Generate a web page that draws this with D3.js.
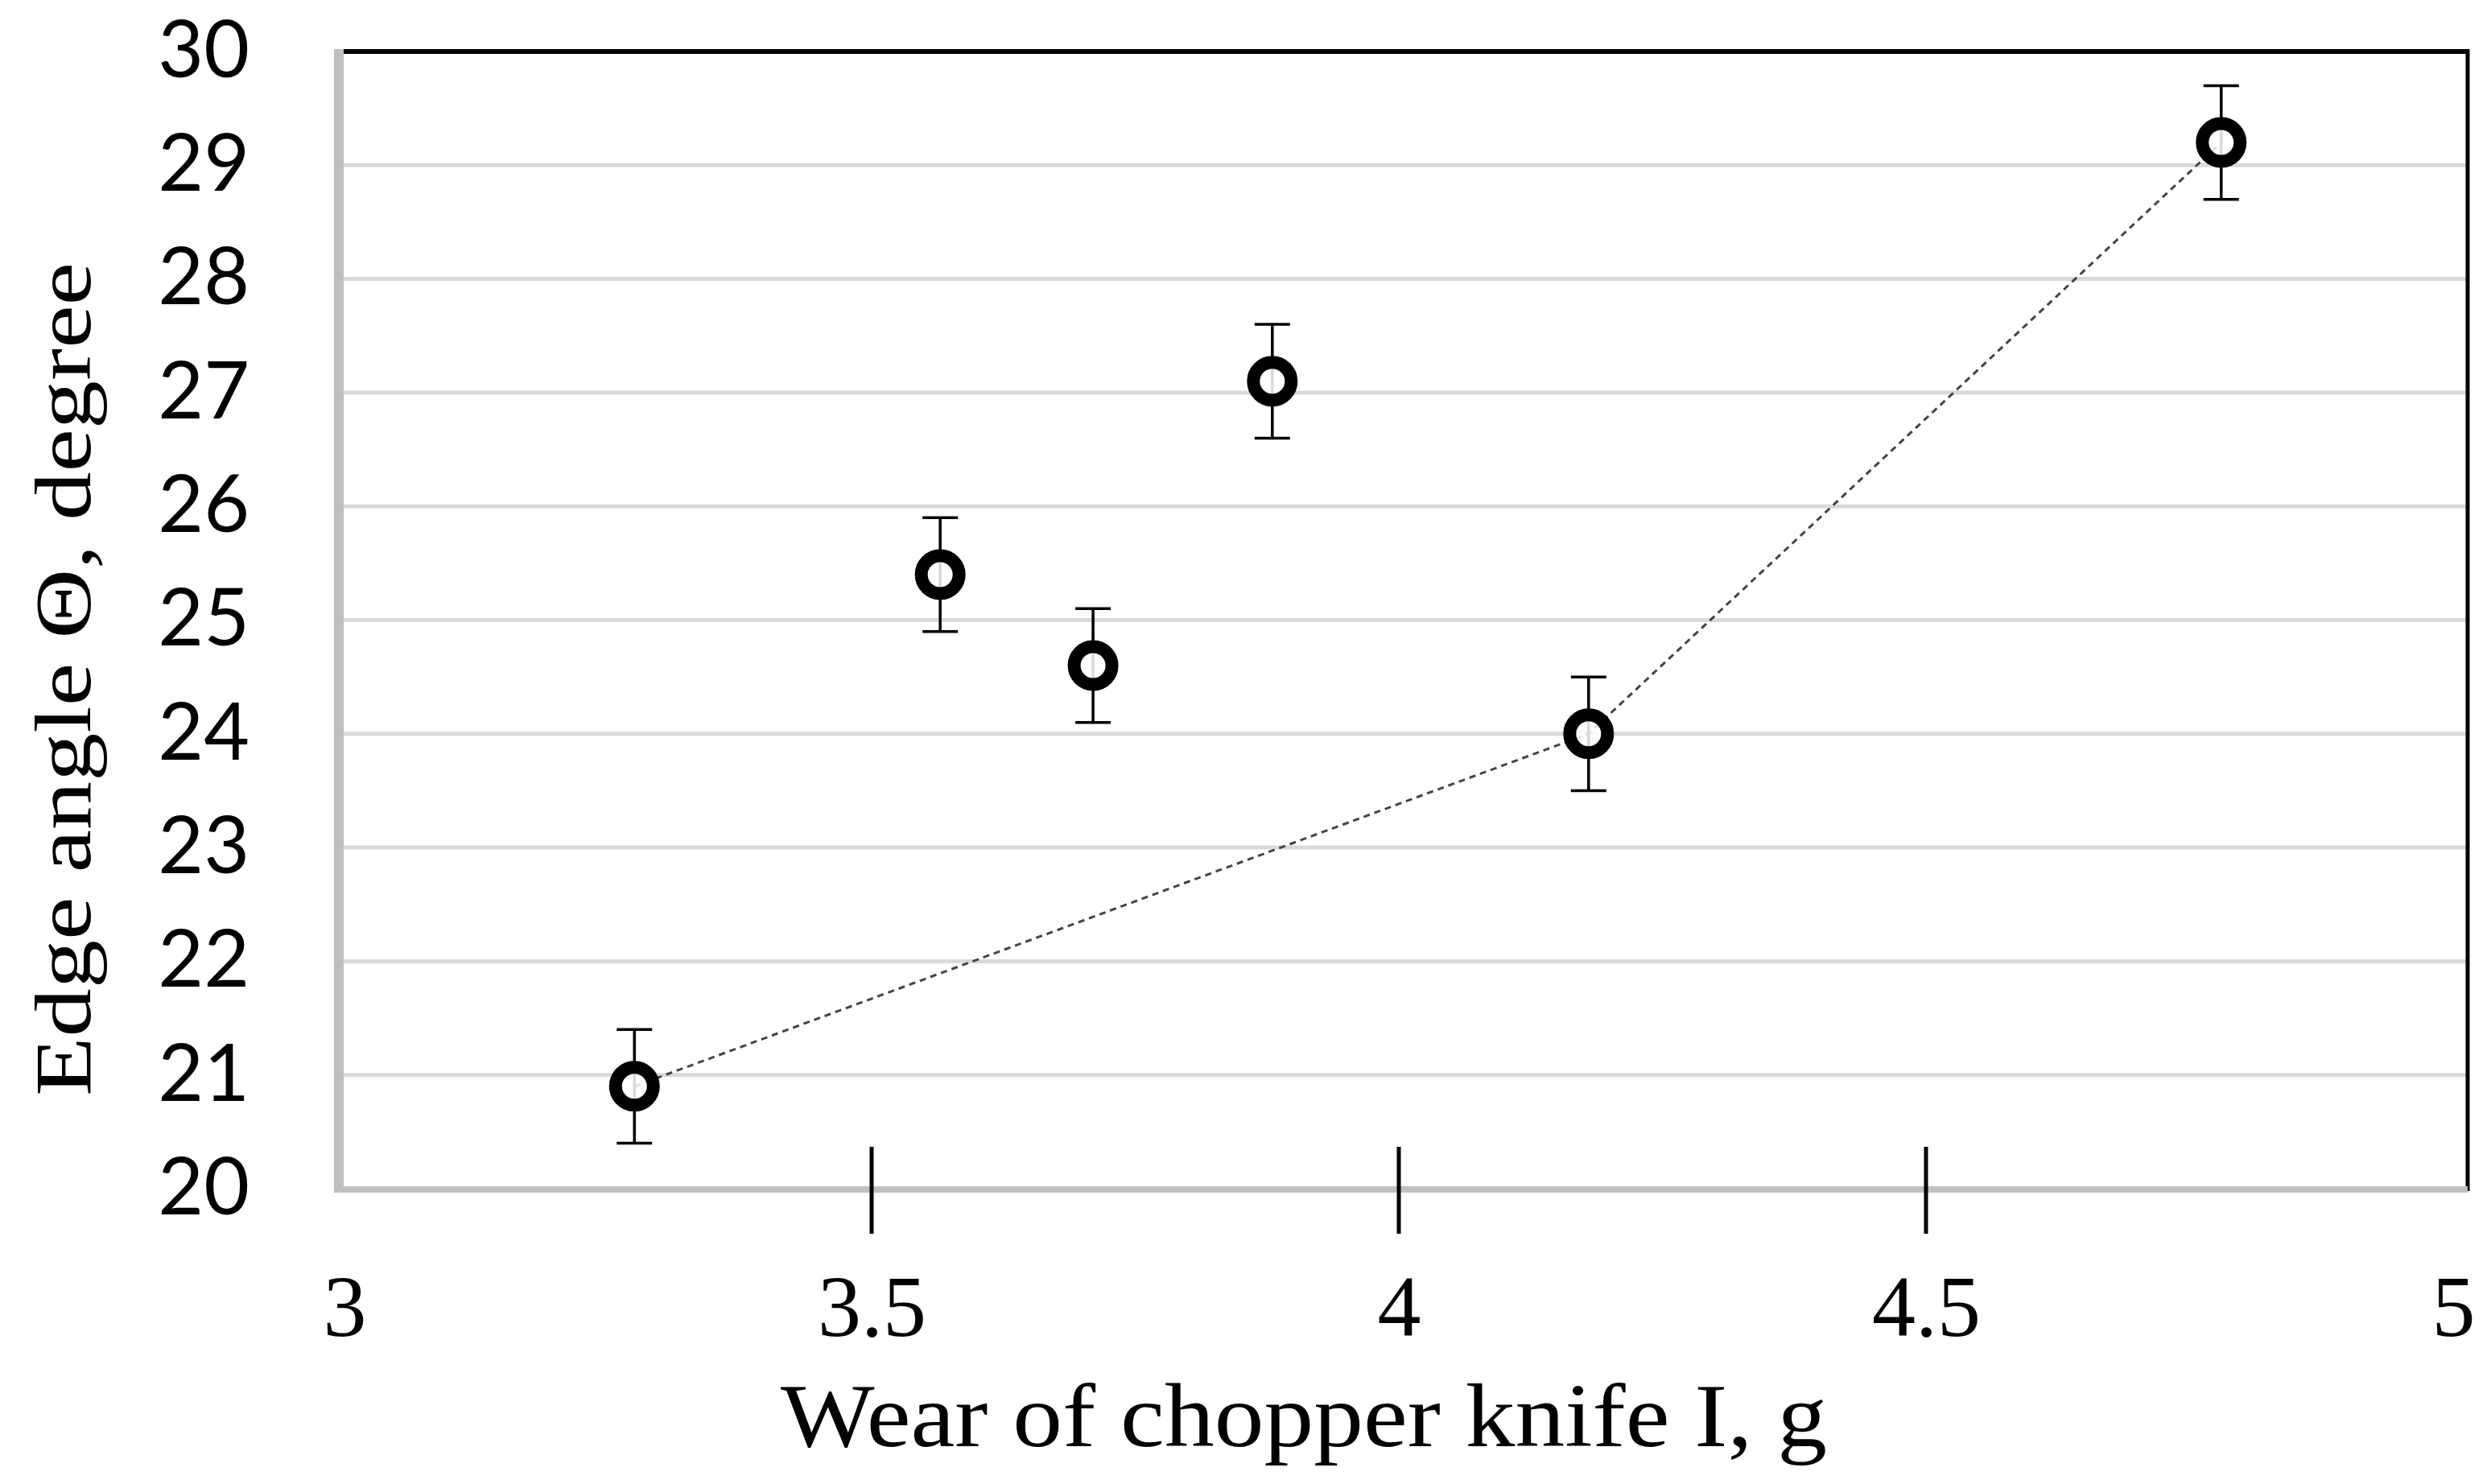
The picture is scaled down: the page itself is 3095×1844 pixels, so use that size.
<!DOCTYPE html>
<html>
<head>
<meta charset="utf-8">
<script src="https://cdn.jsdelivr.net/npm/d3@7"></script>
<style>
  html, body { margin: 0; padding: 0; background: #fff; }
  svg { display: block; }
</style>
</head>
<body>
<script>
// ---- data ----
const wear = [3.275, 3.565, 3.71, 3.88, 4.18, 4.78];
const angle = [20.9, 25.4, 24.6, 27.1, 24.0, 29.2];
const errorMargin = [0.5, 0.5, 0.5, 0.5, 0.5, 0.5];
const trendIndices = [0, 4, 5];
const yTickValues = [20, 21, 22, 23, 24, 25, 26, 27, 28, 29, 30];
const xTickValues = [3, 3.5, 4, 4.5, 5];
const xTickMarks = [3.5, 4, 4.5];
const xTitle = "Wear of chopper knife I, g";
const yTitle = "Edge angle \u0398, degree";

// ---- layout ----
const W = 3095, H = 1844;
const box = { left: 421, right: 3066, top: 64, bottom: 1477 };

const svg = d3.select("body").append("svg")
  .attr("width", W).attr("height", H)
  .attr("viewBox", `0 0 ${W} ${H}`);

const x = d3.scaleLinear().domain([3, 5]).range([428, 3048]);
const y = d3.scaleLinear().domain([20, 30]).range([box.bottom, box.top]);

// gridlines
svg.append("g").selectAll("line")
  .data(yTickValues.filter(v => v > 20 && v < 30))
  .join("line")
  .attr("x1", box.left).attr("x2", box.right)
  .attr("y1", d => y(d)).attr("y2", d => y(d))
  .attr("stroke", "#d9d9d9").attr("stroke-width", 5);

// top & right borders (black)
svg.append("line")
  .attr("x1", box.left).attr("x2", box.right + 2)
  .attr("y1", box.top).attr("y2", box.top)
  .attr("stroke", "#000").attr("stroke-width", 6);
svg.append("line")
  .attr("x1", box.right).attr("x2", box.right)
  .attr("y1", box.top - 3).attr("y2", box.bottom + 3)
  .attr("stroke", "#000").attr("stroke-width", 5);

// left & bottom axis lines (gray)
svg.append("line")
  .attr("x1", box.left).attr("x2", box.left)
  .attr("y1", box.top - 3).attr("y2", box.bottom + 4)
  .attr("stroke", "#bfbfbf").attr("stroke-width", 12);
svg.append("line")
  .attr("x1", box.left - 6).attr("x2", box.right)
  .attr("y1", box.bottom + 1).attr("y2", box.bottom + 1)
  .attr("stroke", "#bfbfbf").attr("stroke-width", 8);

// y axis labels
const yAxis = svg.append("g")
  .attr("transform", `translate(${box.left},0)`)
  .call(d3.axisLeft(y).tickValues(yTickValues).tickSize(0).tickPadding(111).tickFormat(d3.format("d")));
yAxis.select(".domain").remove();
yAxis.selectAll("text")
  .attr("font-family", "Lato, 'Open Sans', sans-serif")
  .attr("font-size", 98)
  .attr("fill", "#000");

// x axis labels
const xAxis = svg.append("g")
  .attr("transform", `translate(0,${box.bottom})`)
  .call(d3.axisBottom(x).tickValues(xTickValues).tickSize(0).tickPadding(106).tickFormat(d3.format("")));
xAxis.select(".domain").remove();
xAxis.selectAll("text")
  .attr("font-family", "'Liberation Serif', 'DejaVu Serif', serif")
  .attr("font-size", 108)
  .attr("fill", "#000");

// x tick marks crossing the axis
svg.append("g").selectAll("line")
  .data(xTickMarks)
  .join("line")
  .attr("x1", d => x(d)).attr("x2", d => x(d))
  .attr("y1", box.bottom - 52).attr("y2", box.bottom + 56)
  .attr("stroke", "#000").attr("stroke-width", 5);

// dashed trend line
const trendData = trendIndices.map(i => [wear[i], angle[i]]);
svg.append("path")
  .datum(trendData)
  .attr("d", d3.line().x(d => x(d[0])).y(d => y(d[1])))
  .attr("fill", "none")
  .attr("stroke", "#444")
  .attr("stroke-width", 3)
  .attr("stroke-dasharray", "8,6");

// error bars
const pts = wear.map((w, i) => ({ x: w, y: angle[i], e: errorMargin[i] }));
const eb = svg.append("g").attr("stroke", "#000").attr("stroke-width", 3.5);
eb.selectAll("line.v").data(pts).join("line").attr("class", "v")
  .attr("x1", d => x(d.x)).attr("x2", d => x(d.x))
  .attr("y1", d => y(d.y - d.e)).attr("y2", d => y(d.y + d.e));
eb.selectAll("line.t").data(pts).join("line").attr("class", "t")
  .attr("x1", d => x(d.x) - 22).attr("x2", d => x(d.x) + 22)
  .attr("y1", d => y(d.y + d.e)).attr("y2", d => y(d.y + d.e));
eb.selectAll("line.b").data(pts).join("line").attr("class", "b")
  .attr("x1", d => x(d.x) - 22).attr("x2", d => x(d.x) + 22)
  .attr("y1", d => y(d.y - d.e)).attr("y2", d => y(d.y - d.e));

// markers
svg.append("g").selectAll("circle").data(pts).join("circle")
  .attr("cx", d => x(d.x)).attr("cy", d => y(d.y))
  .attr("r", 23.5)
  .attr("fill", "#fff").attr("fill-opacity", 0.85)
  .attr("stroke", "#000").attr("stroke-width", 16);

// axis titles
svg.append("text")
  .attr("x", 1620).attr("y", 1797)
  .attr("text-anchor", "middle")
  .attr("font-family", "'Liberation Serif', 'DejaVu Serif', serif")
  .attr("font-size", 112)
  .attr("textLength", 1300)
  .attr("lengthAdjust", "spacingAndGlyphs")
  .text(xTitle);

svg.append("text")
  .attr("transform", "translate(112,844) rotate(-90)")
  .attr("text-anchor", "middle")
  .attr("font-family", "'Liberation Serif', 'DejaVu Serif', serif")
  .attr("font-size", 100)
  .attr("textLength", 1036)
  .attr("lengthAdjust", "spacingAndGlyphs")
  .text(yTitle);
</script>
</body>
</html>
